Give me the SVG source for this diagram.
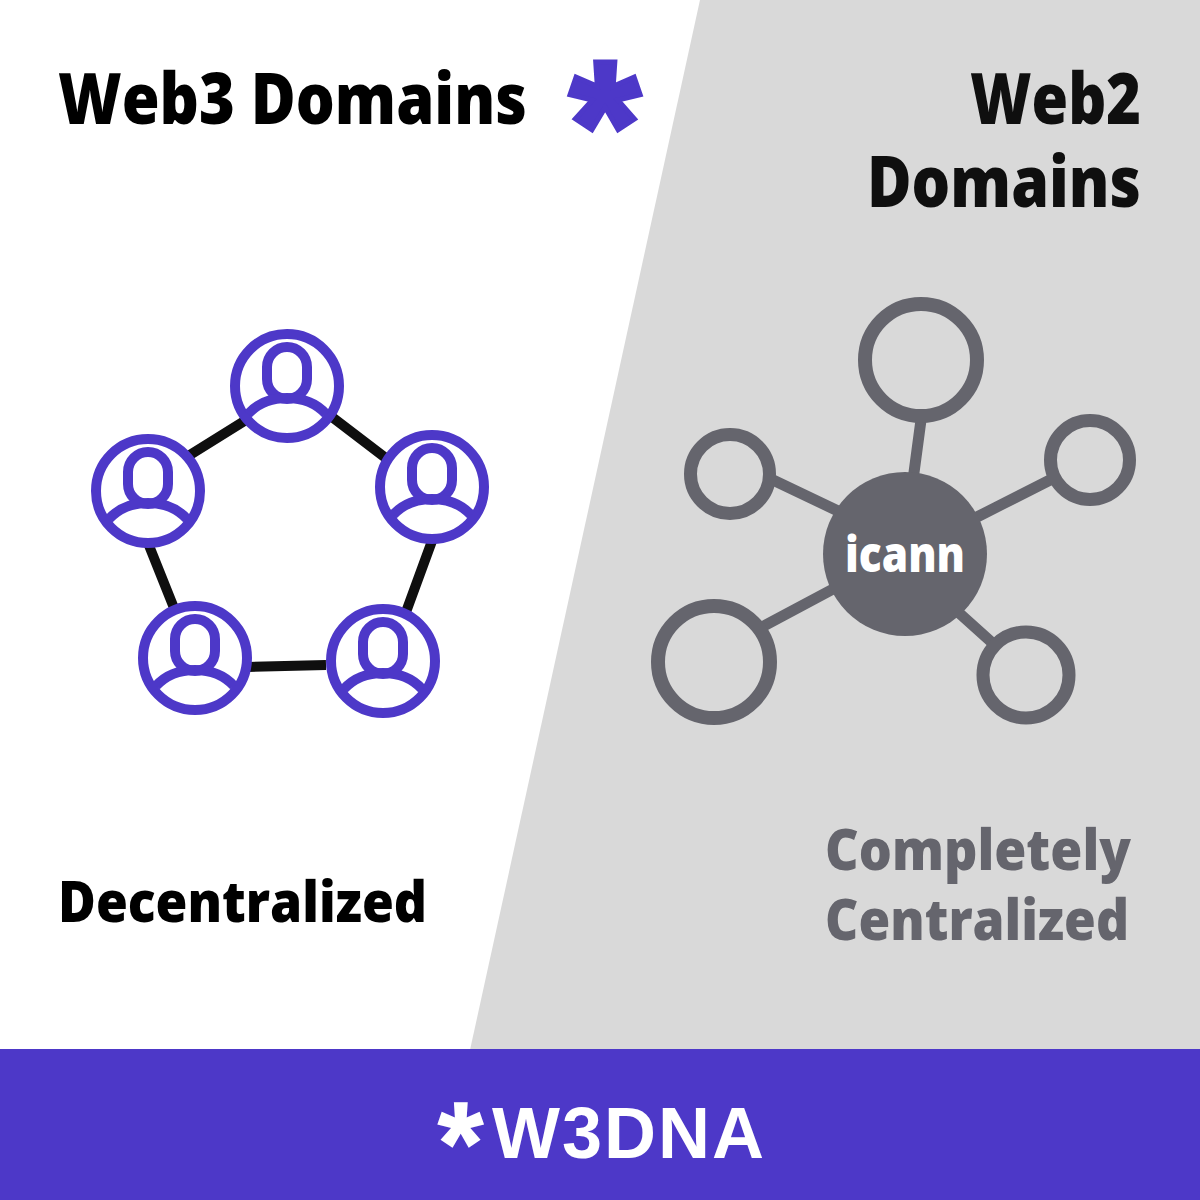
<svg xmlns="http://www.w3.org/2000/svg" width="1200" height="1200" viewBox="0 0 1200 1200">
<style>
.t{font-family:"Open Sans","Noto Sans",sans-serif;font-weight:800}
.b{fill:#000}.k{fill:#0f0f0f}.g{fill:#65656d}
.ul{stroke:#0f0f0f;stroke-width:10;fill:none}
.gl{stroke:#65656d;stroke-width:11;fill:none}
.ring{fill:none;stroke:#65656d}
.u{fill:#fff;stroke:#4d38c8;stroke-width:10}
.un{fill:none;stroke:#4d38c8;stroke-width:10}
</style>
<defs>
<g id="user">
<circle class="u" r="52"/>
<rect class="un" x="-20" y="-39" width="40" height="52" rx="20"/>
<path class="un" d="M-39,28C-29,17 -15,12 0,12C15,12 29,17 39,28"/>
</g>
</defs>
<rect width="1200" height="1200" fill="#fff"/>
<polygon id="panel" points="700,0 1200,0 1200,1050 470,1050" fill="#d9d9d9"/>
<rect id="banner" x="0" y="1049" width="1200" height="151" fill="#4d38c8"/>
<g id="headings">
<text class="t b" x="58" y="124" font-size="70" textLength="469" lengthAdjust="spacingAndGlyphs">Web3 Domains</text>
<text x="605" y="187" font-size="182" text-anchor="middle" fill="#4d38c8" stroke="#4d38c8" stroke-width="5" font-weight="700" font-family="'Liberation Sans',sans-serif">*</text>
<text class="t k" x="970" y="124" font-size="70" textLength="171" lengthAdjust="spacingAndGlyphs">Web2</text>
<text class="t k" x="867" y="207" font-size="70" textLength="274" lengthAdjust="spacingAndGlyphs">Domains</text>
</g>
<g id="connectors">
<path class="ul" d="M246,420L185,458M332,417L387,459M148,543L174,608M432,541L406,612M248,667L326,665"/>
<path class="gl" d="M921,420L913,480M773,480L838,511M1050,480L975,518M762,627L835,588M958,612L998,648"/>
</g>
<g id="user-top"><use href="#user" x="287" y="386"/></g>
<g id="user-left"><use href="#user" x="148" y="491"/></g>
<g id="user-right"><use href="#user" x="432" y="487"/></g>
<g id="user-bottom-left"><use href="#user" x="195" y="658"/></g>
<g id="user-bottom-right"><use href="#user" x="383" y="661"/></g>
<g id="icann"><circle cx="905" cy="554" r="82" class="g"/>
<text class="t" x="845" y="572" font-size="50" fill="#fff" textLength="120" lengthAdjust="spacingAndGlyphs">icann</text></g>
<g id="ring-top"><circle class="ring" cx="921" cy="360" r="56" stroke-width="14"/></g>
<g id="ring-left"><circle class="ring" cx="730" cy="474" r="39.500" stroke-width="13"/></g>
<g id="ring-right"><circle class="ring" cx="1090" cy="460" r="39.500" stroke-width="13"/></g>
<g id="ring-bottom-left"><circle class="ring" cx="714" cy="662" r="56" stroke-width="14"/></g>
<g id="ring-bottom-right"><circle class="ring" cx="1026" cy="675" r="43" stroke-width="13"/></g>
<g id="captions">
<text class="t b" x="58" y="922" font-size="56" textLength="369" lengthAdjust="spacingAndGlyphs">Decentralized</text>
<text class="t g" x="825" y="870" font-size="56" textLength="306" lengthAdjust="spacingAndGlyphs">Completely</text>
<text class="t g" x="825" y="940" font-size="56" textLength="304" lengthAdjust="spacingAndGlyphs">Centralized</text>
</g>
<g id="brand"><text fill="#fff" font-weight="700" font-family="'Liberation Sans',Arial,sans-serif"><tspan x="438" y="1184" font-size="116" stroke="#fff" stroke-width="1.500">*</tspan><tspan x="492" y="1158" font-size="72" letter-spacing="2">W3DNA</tspan></text></g>
</svg>
